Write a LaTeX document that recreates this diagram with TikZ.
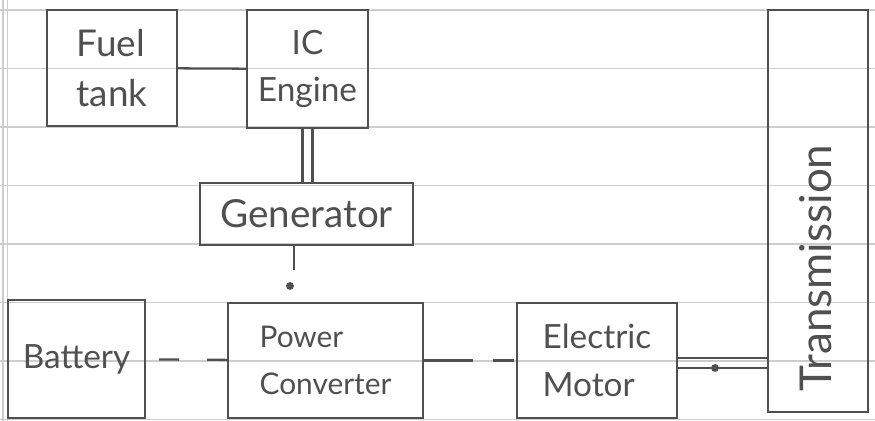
\documentclass[tikz,border=0pt]{standalone}
\usepackage{fontspec}
\setmainfont{Lato}
\usepackage{xcolor}
\usetikzlibrary{positioning}
\definecolor{pen}{RGB}{80,80,80}
\definecolor{ruling}{RGB}{205,205,205}

\begin{document}
\begin{tikzpicture}[
    x=0.02cm, y=-0.02cm,
    color=pen, line width=1.3pt,
    box/.style={draw, align=center, inner sep=0pt, font=\fontsize{19}{27}\selectfont},
    dot/.style={circle, fill=pen, inner sep=0pt, minimum size=4.5pt},
    paper/.style={draw=ruling, line width=0.6pt},
]
\useasboundingbox (0,0) rectangle (875,421);

% ruled paper
\foreach \k in {0,...,7}
    \draw[paper] (0,10+58.5*\k) -- (875,10+58.5*\k);
\draw[paper] (3,0) -- (3,421);
\draw[paper] (7.5,0) -- (7.5,421);

\node[box, minimum width=2.6cm, minimum height=2.32cm, align=left, font=\fontsize{21}{28}\selectfont] (fuel) at (112,68) {Fuel\\tank};
\node[box, minimum width=2.42cm, minimum height=2.36cm] (ice) at (307.5,69) {IC\\Engine};
\node[box, minimum width=4.26cm, minimum height=1.24cm, font=\fontsize{22}{26}\selectfont] (gen) at (306.5,214) {Generator};
\node[box, minimum width=2.74cm, minimum height=2.36cm, font=\fontsize{19}{22}\selectfont] (bat) at (76.5,359) {Battery};
\node[box, minimum width=3.9cm, minimum height=2.3cm, align=left, font=\fontsize{17}{27}\selectfont] (pc) at (325.5,360.5) {Power\\Converter};
\node[box, minimum width=3.2cm, minimum height=2.3cm, align=left] (em) at (597,360.5) {Electric\\Motor};
\node[box, minimum width=2.0cm, minimum height=8.04cm] (tr) at (818,211) {};
\node[rotate=90, font=\fontsize{25}{28}\selectfont] (trtext) at (816,268) {Transmission};

\draw (fuel) -- (ice);
\draw ([xshift=-0.1cm]ice.south) -- ([xshift=-0.1cm]ice.south |- gen.north);
\draw ([xshift=0.1cm]ice.south) -- ([xshift=0.1cm]ice.south |- gen.north);

\coordinate (gtip) at (294,270);
\node[dot] (gdot) at (290,286) {};
\draw (gen.south -| gtip) -- (gtip);

\draw[dash pattern=on 0.4cm off 0.56cm, shorten <=0.26cm] (bat) -- (pc);
\draw[dash pattern=on 0.98cm off 0.4cm on 0.42cm off 0.1cm] (pc) -- (em);

\draw ([yshift=0.05cm]em.east) -- ([yshift=0.05cm]em.east -| tr.west);
\draw ([yshift=-0.15cm]em.east) -- ([yshift=-0.15cm]em.east -| tr.west);
\node[dot] (mdot) at (715,368) {};

\end{tikzpicture}
\end{document}
